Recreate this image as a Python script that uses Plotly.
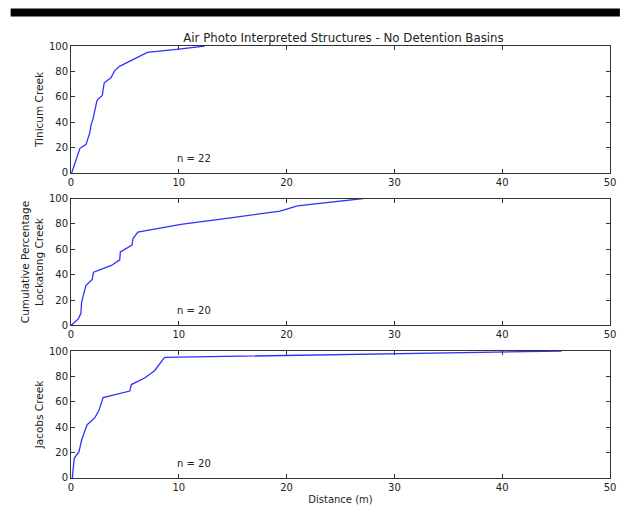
import plotly.graph_objects as go
from plotly.subplots import make_subplots

# Tinicum Creek (n = 22)
tinicum_x = [0.06, 0.83, 1.4, 1.75, 1.85, 2.06, 2.37, 2.43, 2.9, 3.08, 3.7, 4.06, 4.5, 7.08, 10.0, 12.4]
tinicum_y = [0, 19.4, 22.5, 32, 37.5, 43, 55.5, 57.4, 61, 71, 75, 80.6, 84, 95, 97.5, 100]

# Lockatong Creek (n = 20)
lockatong_x = [0, 0.68, 0.92, 0.98, 1.38, 1.97, 2.09, 3.75, 4.52, 4.58, 5.66, 5.75, 6.2, 10.2, 14.8, 19.4, 21.0, 27.1]
lockatong_y = [0, 5.2, 9.6, 18, 31.5, 36.2, 42, 47.3, 51.7, 58, 63.3, 68.5, 73.6, 79.6, 84.8, 90, 94.3, 100]

# Jacobs Creek (n = 20)
jacobs_x = [0.12, 0.3, 0.74, 0.98, 1.3, 1.5, 2.2, 2.6, 2.98, 5.45, 5.6, 6.83, 7.75, 8.68, 45.5]
jacobs_y = [0, 15.5, 20.7, 29.7, 37.5, 42, 47.3, 53.5, 63.3, 68.5, 73.6, 78.8, 84.5, 95, 100]

panel_titles = ["Tinicum Creek", "Cumulative Percentage<br>Lockatong Creek", "Jacobs Creek"]
n_labels = ["n = 22", "n = 20", "n = 20"]
x_ticks = [0, 10, 20, 30, 40, 50]
y_ticks = [0, 20, 40, 60, 80, 100]

series = [(tinicum_x, tinicum_y), (lockatong_x, lockatong_y), (jacobs_x, jacobs_y)]

W, H = 626, 513
L, R, T, B = 71, 10, 46, 28
PW, PH = W - L - R, H - T - B

fig = make_subplots(rows=3, cols=1, vertical_spacing=26 / PH)

font = "DejaVu Sans"
for i, (xs, ys) in enumerate(series):
    r = i + 1
    fig.add_trace(go.Scatter(x=xs, y=ys, mode="lines",
                             line=dict(color="#3030ff", width=1.3),
                             showlegend=False, hoverinfo="skip"), row=r, col=1)
    fig.update_xaxes(range=[0, 50], tickvals=x_ticks, ticks="inside", ticklen=4,
                     tickcolor="#333", showline=True, linecolor="#333", linewidth=1,
                     mirror="allticks", showgrid=False, zeroline=False,
                     tickfont=dict(family=font, size=10, color="#222"), row=r, col=1)
    fig.update_yaxes(range=[0, 100], tickvals=y_ticks, ticks="inside", ticklen=4,
                     tickcolor="#333", showline=True, linecolor="#333", linewidth=1,
                     mirror="allticks", showgrid=False, zeroline=False,
                     tickfont=dict(family=font, size=10, color="#222"),
                     title=dict(text=panel_titles[i], font=dict(family=font, size=10.5, color="#222"),
                                standoff=3),
                     row=r, col=1)
    xref = "x" if r == 1 else f"x{r}"
    yref = "y" if r == 1 else f"y{r}"
    fig.add_annotation(x=11.4, y=11.6, xref=xref, yref=yref, text=n_labels[i],
                       showarrow=False, font=dict(family=font, size=10, color="#222"))

fig.update_xaxes(title=dict(text="Distance (m)", font=dict(family=font, size=10, color="#222"),
                            standoff=3), row=3, col=1)

fig.add_shape(type="rect", xref="paper", yref="paper",
              x0=(10 - L) / PW, x1=(W - L) / PW,
              y0=(PH + T - 16) / PH, y1=(PH + T - 8) / PH,
              fillcolor="black", line=dict(width=0))

fig.update_layout(
    width=W, height=H,
    margin=dict(l=L, r=R, t=T, b=B),
    paper_bgcolor="white", plot_bgcolor="white",
    title=dict(text="Air Photo Interpreted Structures - No Detention Basins",
               x=(L + PW / 2) / W, xanchor="center", y=1 - 38 / H, yanchor="middle",
               font=dict(family=font, size=11.8, color="#222")),
)

fig.write_html("out.html", config={"displayModeBar": False},
               post_script="document.body.style.margin='0';document.body.style.overflow='hidden';")
